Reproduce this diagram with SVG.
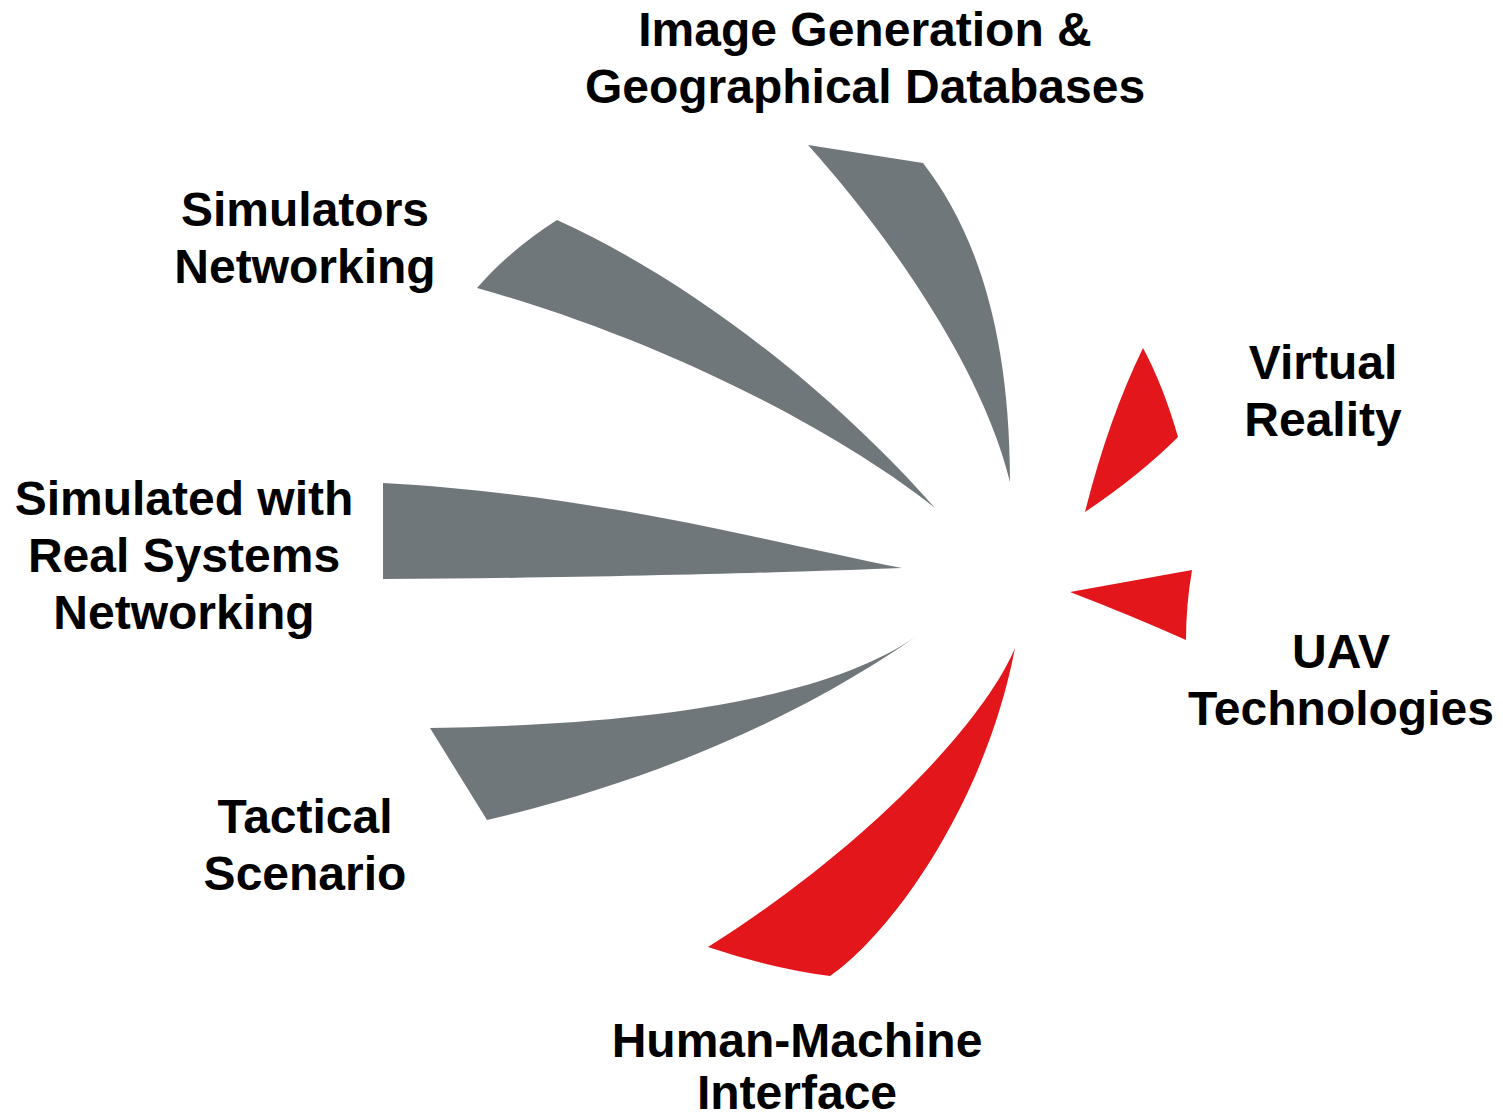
<svg xmlns="http://www.w3.org/2000/svg" width="1503" height="1120" viewBox="0 0 1503 1120">
<style>
.grey{fill:#70777b;}
.red{fill:#e3161b;}
.lbl{font-family:"Liberation Sans",Arial,sans-serif;font-weight:bold;font-size:48px;fill:#000;text-anchor:middle;}
</style>
<rect width="1503" height="1120" fill="#ffffff"/>
<g id="image-generation">
<path class="grey" d="M808,145 L923,163 C975,230 1010,330 1010,482 C980,360 880,225 808,145 Z"/>
<text class="lbl" x="865" y="46">Image Generation &amp;</text>
<text class="lbl" x="865" y="103">Geographical Databases</text>
</g>
<g id="simulators-networking">
<path class="grey" d="M557,220 C700,285 840,400 935,508 C850,440 680,345 477,288 Q510,250 557,220 Z"/>
<text class="lbl" x="305" y="226">Simulators</text>
<text class="lbl" x="305" y="283">Networking</text>
</g>
<g id="simulated-real-systems">
<path class="grey" d="M383,483 C600,495 760,540 902,568 C800,572 600,578 383,579 Z"/>
<text class="lbl" x="184" y="515">Simulated with</text>
<text class="lbl" x="184" y="572">Real Systems</text>
<text class="lbl" x="184" y="629">Networking</text>
</g>
<g id="tactical-scenario">
<path class="grey" d="M430,728 C620,725 820,705 918,635 C840,690 700,770 487,820 Z"/>
<text class="lbl" x="305" y="833">Tactical</text>
<text class="lbl" x="305" y="890">Scenario</text>
</g>
<g id="human-machine-interface">
<path class="red" d="M1015,648 C985,720 870,845 708,947 Q770,968 830,976 C890,935 985,805 1015,648 Z"/>
<text class="lbl" x="797" y="1057">Human-Machine</text>
<text class="lbl" x="797" y="1109">Interface</text>
</g>
<g id="virtual-reality">
<path class="red" d="M1143,348 Q1163,385 1178,437 Q1140,475 1085,512 Q1108,420 1143,348 Z"/>
<text class="lbl" x="1323" y="379">Virtual</text>
<text class="lbl" x="1323" y="436">Reality</text>
</g>
<g id="uav-technologies">
<path class="red" d="M1070,592 L1192,570 Q1186,605 1186,640 Q1130,615 1070,592 Z"/>
<text class="lbl" x="1341" y="668">UAV</text>
<text class="lbl" x="1341" y="725">Technologies</text>
</g>
<g id="connectors"></g>
</svg>
